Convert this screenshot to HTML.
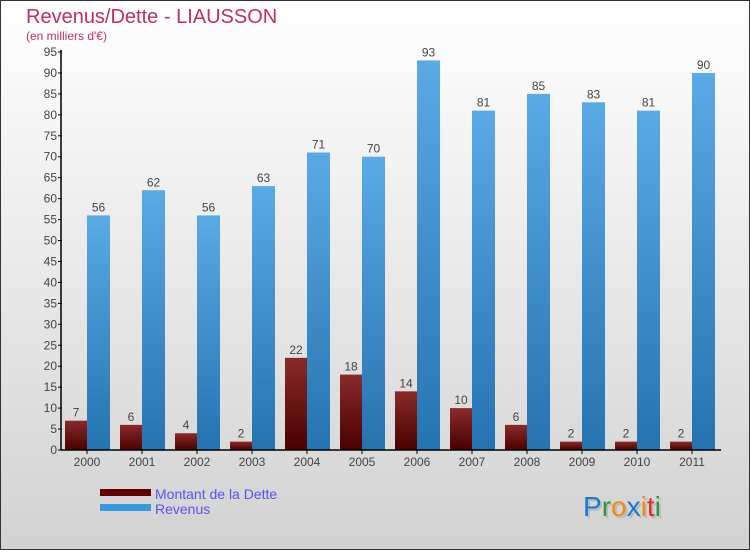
<!DOCTYPE html>
<html><head><meta charset="utf-8"><style>
body{margin:0;width:750px;height:550px;overflow:hidden;font-family:"Liberation Sans",sans-serif}
</style></head><body>
<svg width="750" height="550" xmlns="http://www.w3.org/2000/svg" font-family="Liberation Sans, sans-serif">
<defs>
<linearGradient id="bg" x1="0" y1="0" x2="0" y2="1"><stop offset="0" stop-color="#ffffff"/><stop offset="1" stop-color="#d2d2d2"/></linearGradient>
<linearGradient id="gd" x1="0" y1="0" x2="0" y2="1"><stop offset="0" stop-color="#8a2a2a"/><stop offset="1" stop-color="#4a0000"/></linearGradient>
<linearGradient id="gr" x1="0" y1="0" x2="0" y2="1"><stop offset="0" stop-color="#5aaae6"/><stop offset="1" stop-color="#2573b0"/></linearGradient>
</defs>
<rect x="0.5" y="0.5" width="749" height="549" fill="url(#bg)" stroke="#333"/>
<text x="26" y="23" font-size="20" fill="#c0305a">Revenus/Dette - LIAUSSON</text>
<text x="26" y="40" font-size="12" fill="#c0305a">(en milliers d'€)</text>
<g id="plot"></g>
<g>
<rect x="100" y="489" width="51" height="7" fill="#600000"/>
<rect x="100" y="504" width="51" height="7" fill="#3a98dc"/>
<text x="155" y="499" font-size="14" fill="#5555ee">Montant de la Dette</text>
<text x="155" y="514" font-size="14" fill="#5555ee">Revenus</text>
</g>
<text x="585" y="518" font-size="28" fill="#bbb">Proxiti</text>
<text x="583" y="516" font-size="28"><tspan fill="#1a7ad0">P</tspan><tspan fill="#2a9a40">r</tspan><tspan fill="#f08a10">o</tspan><tspan fill="#1a7ad0">x</tspan><tspan fill="#f08a10">i</tspan><tspan fill="#e03020">t</tspan><tspan fill="#2a9a40">i</tspan></text>
</svg>
<script>
const years=["2000","2001","2002","2003","2004","2005","2006","2007","2008","2009","2010","2011"];
const dette=[7,6,4,2,22,18,14,10,6,2,2,2];
const revenus=[56,62,56,63,71,70,93,81,85,83,81,90];
const yTicks=[0,5,10,15,20,25,30,35,40,45,50,55,60,65,70,75,80,85,90,95];
const NS="http://www.w3.org/2000/svg";
const g=document.getElementById('plot');
const y=v=>450-v*398/95;
const xc=i=>87+55*i;
function mk(t,a,txt){const e=document.createElementNS(NS,t);for(const k in a)e.setAttribute(k,a[k]);if(txt!==undefined)e.textContent=txt;g.appendChild(e);return e;}
years.forEach((yr,i)=>{
 const c=xc(i);
 let r=mk('rect',{x:c-22,y:y(dette[i]),width:22,height:450-y(dette[i]),fill:'url(#gd)'});
 
 
 let r2=mk('rect',{x:c,y:y(revenus[i]),width:23,height:450-y(revenus[i]),fill:'url(#gr)'});
 
 
 let t=mk('text',{x:c-11,y:y(dette[i])-4,'font-size':12,fill:'#444','text-anchor':'middle'},dette[i]);
 
 
 let t2=mk('text',{x:c+11.5,y:y(revenus[i])-4,'font-size':12,fill:'#444','text-anchor':'middle'},revenus[i]);
 
 
 mk('line',{x1:c,x2:c,y1:450,y2:454,stroke:'#000'});
 let xl=mk('text',{x:c,y:466,'font-size':12,fill:'#444','text-anchor':'middle'},yr);
 
 
});
yTicks.forEach(v=>{
 mk('line',{x1:58,x2:62,y1:y(v),y2:y(v),stroke:'#000'});
 let t=mk('text',{x:57,y:y(v)+4,'font-size':12,fill:'#444','text-anchor':'end'},v);
 
 
});
let ya=mk('line',{x1:61,x2:61,y1:50,y2:450,stroke:'#000','stroke-width':1.5});


let xa=mk('line',{x1:61,x2:721,y1:450,y2:450,stroke:'#000','stroke-width':1.5});


</script>
</body></html>
